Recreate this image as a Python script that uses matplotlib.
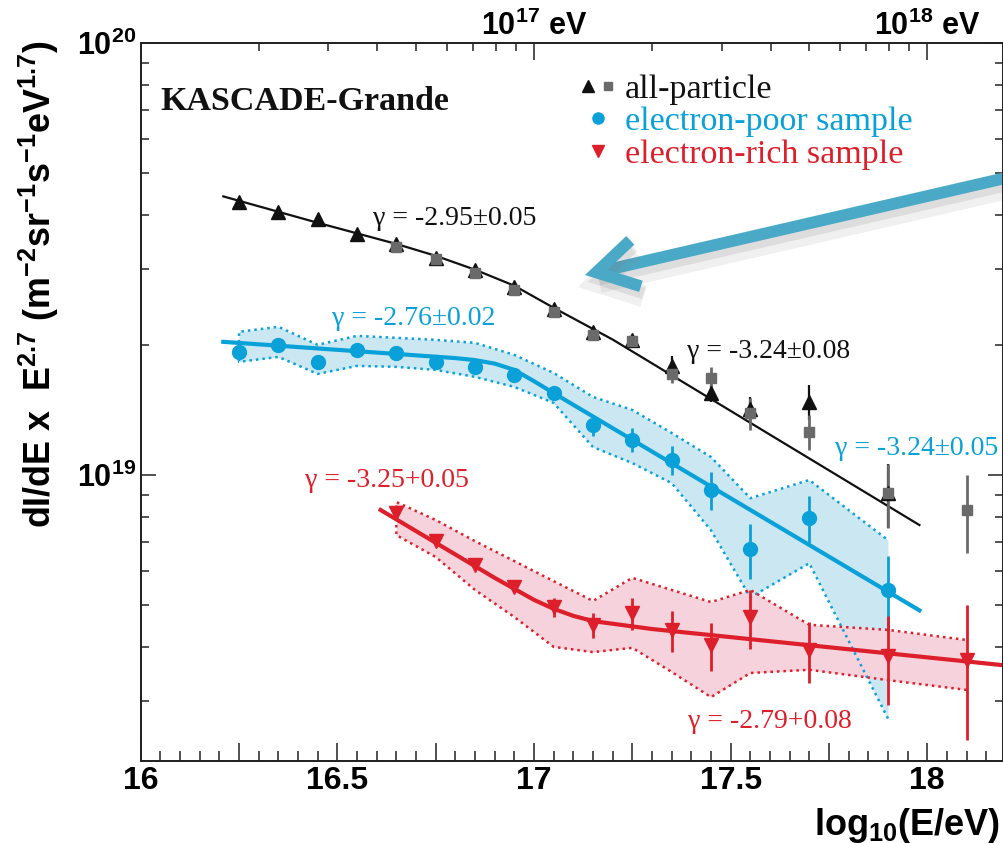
import matplotlib
matplotlib.use('Agg')
import matplotlib.pyplot as plt
import matplotlib.patheffects as pe
from matplotlib.ticker import MultipleLocator, FixedLocator, FuncFormatter, LogLocator, NullFormatter
from matplotlib.legend_handler import HandlerTuple
import numpy as np

plt.rcParams['font.family'] = 'Liberation Sans'
plt.rcParams['font.weight'] = 'bold'
plt.rcParams['mathtext.fontset'] = 'custom'
plt.rcParams['mathtext.rm'] = 'Liberation Sans:bold'
plt.rcParams['mathtext.it'] = 'Liberation Sans:bold'
plt.rcParams['mathtext.bf'] = 'Liberation Sans:bold'
plt.rcParams['mathtext.sf'] = 'Liberation Sans:bold'

# flux values in units of 1e19 m^-2 sr^-1 s^-1 eV^1.7
lgE_all = [16.25, 16.35, 16.45, 16.55, 16.65, 16.75, 16.85, 16.95,
           17.05, 17.15, 17.25, 17.35, 17.45, 17.55, 17.70, 17.90]
all_tri = [4.30, 4.07, 3.91, 3.62, 3.42, 3.19, 2.99, 2.73,
           2.42, 2.14, 2.06, 1.79, 1.55, 1.42, 1.48, 0.908]
all_tri_err = [0, 0, 0, 0, 0, 0, 0, 0,
               0, 0, 0.04, 0.10, 0.07, 0.10, 0.136, 0.155]

lgE_sq = [16.65, 16.75, 16.85, 16.95, 17.05, 17.15, 17.25,
          17.35, 17.45, 17.55, 17.70, 17.90, 18.10]
all_sq = [3.37, 3.16, 2.94, 2.69, 2.38, 2.11, 2.04,
          1.71, 1.68, 1.39, 1.26, 0.908, 0.830]
all_sq_err = [0, 0, 0, 0, 0, 0, 0.03, 0.08, 0.095, 0.12, 0.12, 0.155, 0.17]

fit_all_x = [16.21, 16.45, 16.65, 16.75, 16.85, 16.95, 17.05, 17.20, 17.98]
fit_all_y = [4.42, 3.84, 3.43, 3.22, 2.99, 2.745, 2.44, 2.06, 0.766]

poor = [1.929, 2.003, 1.829, 1.950, 1.919, 1.829, 1.781, 1.706,
        1.550, 1.306, 1.206, 1.083, 0.923, 0.674, 0.795, 0.541]
poor_err = [0, 0, 0, 0, 0, 0, 0, 0,
            0.04, 0.075, 0.077, 0.082, 0.093, 0.098, 0.100, 0.109]
poor_hi = [2.147, 2.205, 2.003, 2.101, 2.079, 2.057, 2.024, 1.898,
           1.724, 1.517, 1.415, 1.252, 1.101, 0.884, 0.974, 0.707]
poor_lo = [1.829, 1.878, 1.715, 1.790, 1.781, 1.752, 1.688, 1.600,
           1.469, 1.161, 1.066, 0.958, 0.745, 0.521, 0.625, 0.273]
fit_poor_x = [16.21, 16.80, 16.85, 16.90, 16.95, 17.00, 17.05, 17.98]
fit_poor_y = [2.035, 1.866, 1.846, 1.812, 1.752, 1.650, 1.548, 0.486]

lgE_rich = [16.65, 16.75, 16.85, 16.95, 17.05, 17.15, 17.25,
            17.35, 17.45, 17.55, 17.70, 17.90, 18.10]
rich = [0.816, 0.703, 0.618, 0.550, 0.494, 0.449, 0.478,
        0.437, 0.403, 0.468, 0.393, 0.382, 0.372]
rich_err = [0.01, 0.01, 0.01, 0.012, 0.026, 0.029, 0.040,
            0.048, 0.052, 0.073, 0.063, 0.089, 0.128]
rich_hi = [0.866, 0.787, 0.703, 0.632, 0.568, 0.511, 0.578,
           0.542, 0.508, 0.542, 0.450, 0.438, 0.415]
rich_lo = [0.726, 0.646, 0.542, 0.469, 0.400, 0.389, 0.398,
           0.350, 0.306, 0.348, 0.354, 0.335, 0.318]
fit_rich_x = [16.61, 16.90, 17.00, 17.05, 17.10, 17.15, 17.30, 18.19]
fit_rich_y = [0.830, 0.578, 0.514, 0.490, 0.472, 0.459, 0.440, 0.363]

SC = 1e19
BLACK = '#111111'
GRAY = '#6a6a6a'
BLUE = '#0aa0d8'
BLUE_FILL = '#cbe8f2'
RED = '#dc1f2a'
RED_FILL = '#f5d2dc'


def f(v):
    return np.array(v) * SC


W, H = 1004, 843
L, R, T, B = 140.7, 1003.0, 43.3, 760.7
fig = plt.figure(figsize=(W / 100, H / 100), dpi=100)
ax = fig.add_axes([L / W, 1 - B / H, (R - L) / W, (B - T) / H])
ax.set_yscale('log')
ax.set_xlim(16, 18.1925)
ax.set_ylim(2.18e18, 1e20)


def px(x, y):
    # pixel position -> axes fraction
    return (x - L) / (R - L), (B - y) / (B - T)


# bands
ax.fill_between(lgE_all, f(poor_lo), f(poor_hi), color=BLUE_FILL, lw=0, zorder=1)
ax.plot(lgE_all[::-1] + lgE_all, list(f(poor_lo))[::-1] + list(f(poor_hi)),
        ls=(0, (1, 1.6)), lw=1.8, color=BLUE, zorder=2)
ax.fill_between(lgE_rich, f(rich_lo), f(rich_hi), color=RED_FILL, lw=0, zorder=1)
ax.plot(lgE_rich[::-1] + lgE_rich, list(f(rich_lo))[::-1] + list(f(rich_hi)),
        ls=(0, (1, 1.6)), lw=1.8, color=RED, zorder=2)

# fits
ax.plot(fit_all_x, f(fit_all_y), color=BLACK, lw=1.6, zorder=3)
ax.plot(fit_poor_x, f(fit_poor_y), color=BLUE, lw=3.0, zorder=3)
ax.plot(fit_rich_x, f(fit_rich_y), color=RED, lw=3.0, zorder=3)

# data
ax.errorbar(lgE_all, f(all_tri), yerr=f(all_tri_err), fmt='none', ecolor=BLACK, elinewidth=1.6, zorder=4)
ax.errorbar(lgE_sq, f(all_sq), yerr=f(all_sq_err), fmt='none', ecolor=GRAY, elinewidth=2.0, zorder=4)
tri, = ax.plot(lgE_all, f(all_tri), '^', ms=10.5, color=BLACK, mec=BLACK, zorder=5)
sq, = ax.plot(lgE_sq, f(all_sq), 's', ms=6.5, color=GRAY, mec=GRAY, zorder=6)

ax.errorbar(lgE_all, f(poor), yerr=f(poor_err), fmt='none', ecolor=BLUE, elinewidth=2.0, zorder=4)
circ, = ax.plot(lgE_all, f(poor), 'o', ms=10, color=BLUE, mec=BLUE, zorder=5)

ax.errorbar(lgE_rich, f(rich), yerr=f(rich_err), fmt='none', ecolor=RED, elinewidth=2.0, zorder=4)
vtri, = ax.plot(lgE_rich, f(rich), 'v', ms=10.5, color=RED, mec=RED, zorder=5)

# legend
leg = ax.legend([(tri, sq), circ, vtri],
                ['all-particle', 'electron-poor sample', 'electron-rich sample'],
                handler_map={tuple: HandlerTuple(ndivide=None, pad=0.15)},
                loc='upper left', bbox_to_anchor=px(581, 74), frameon=False,
                prop={'family': 'Liberation Serif', 'weight': 'normal', 'size': 24.5},
                handlelength=1.0, handletextpad=0.3, labelspacing=0.05,
                borderpad=0, borderaxespad=0, markerscale=0.8)
for txt, c in zip(leg.get_texts(), [BLACK, BLUE, RED]):
    txt.set_color(c)

# annotations
serif = dict(family='Liberation Serif', weight='normal', fontsize=20, va='baseline',
             transform=ax.transAxes)
ax.text(*px(160, 110), 'KASCADE-Grande', family='Liberation Serif', weight='bold',
        fontsize=24.5, va='baseline', transform=ax.transAxes, color=BLACK)
ax.text(*px(373, 225), 'γ = -2.95±0.05', color=BLACK, **serif)
ax.text(*px(332, 325), 'γ = -2.76±0.02', color=BLUE, **serif)
ax.text(*px(687, 358), 'γ = -3.24±0.08', color=BLACK, **serif)
ax.text(*px(835, 455), 'γ = -3.24±0.05', color=BLUE, **serif)
ax.text(*px(305, 487), 'γ = -3.25+0.05', color=RED, **serif)
ax.text(*px(688, 728), 'γ = -2.79+0.08', color=RED, **serif)

# arrow
ann = ax.annotate('', xy=px(585, 275), xycoords='axes fraction',
                  xytext=px(1010, 177), textcoords='axes fraction',
                  arrowprops=dict(arrowstyle='->,head_length=2.9,head_width=1.7',
                                  lw=8.5, color='#4aa9c6', shrinkA=0, shrinkB=0,
                                  mutation_scale=10, capstyle='butt', joinstyle='miter'),
                  annotation_clip=False, zorder=10)
ann.arrow_patch.set_path_effects([
    pe.SimpleLineShadow(offset=(2, -7), shadow_color='#888888', alpha=0.12, linewidth=16),
    pe.SimpleLineShadow(offset=(2, -5), shadow_color='#777777', alpha=0.15),
    pe.Normal()])

# axes styling
for s in ax.spines.values():
    s.set_linewidth(1.3)
    s.set_color('#222222')

ax.xaxis.set_major_locator(MultipleLocator(0.25))
ax.xaxis.set_minor_locator(MultipleLocator(0.05))
ax.xaxis.set_major_formatter(FuncFormatter(
    lambda v, p: ('%g' % v) if abs(v * 2 - round(v * 2)) < 1e-6 else ''))
ax.yaxis.set_major_locator(LogLocator(base=10))
ax.yaxis.set_minor_locator(LogLocator(base=10, subs=np.arange(2, 10)))
ax.yaxis.set_minor_formatter(NullFormatter())

ax.tick_params(axis='x', which='major', direction='in', length=13, width=1.1,
               top=False, labelsize=23, pad=4, color='#222222')
ax.tick_params(axis='x', which='minor', direction='in', length=7, width=1.1,
               top=False, color='#222222')
ax.tick_params(axis='y', which='major', direction='in', length=11, width=1.1,
               left=True, right=True, labelsize=22, pad=3, color='#222222')
ax.tick_params(axis='y', which='minor', direction='in', length=5.5, width=1.1,
               left=True, right=True, color='#222222')

axt = ax.twiny()
axt.set_xlim(ax.get_xlim())
axt.xaxis.set_major_locator(FixedLocator([17, 18]))
axt.set_xticklabels(['$10^{17}$ eV', '$10^{18}$ eV'])
axt.xaxis.set_minor_locator(FixedLocator(np.log10(np.concatenate(
    [np.arange(2, 10) * 1e16, np.arange(2, 10) * 1e17]))))
axt.tick_params(axis='x', which='major', direction='in', length=12, width=1.1,
                labelsize=22, pad=1, color='#222222')
axt.tick_params(axis='x', which='minor', direction='in', length=6, width=1.1,
                color='#222222')
for s in axt.spines.values():
    s.set_linewidth(1.3)
    s.set_color('#222222')

fig.text(39 / W, 1 - 40 / H,
         'dI/dE x  E$^{2.7}$ (m$^{-2}$sr$^{-1}$s$^{-1}$eV$^{1.7}$)',
         rotation=90, ha='center', va='top', fontsize=25.8, weight='bold')
fig.text(1000 / W, 1 - 835 / H, 'log$_{10}$(E/eV)', ha='right', va='baseline',
         fontsize=26, weight='bold')

fig.savefig('out.png', dpi=100)
